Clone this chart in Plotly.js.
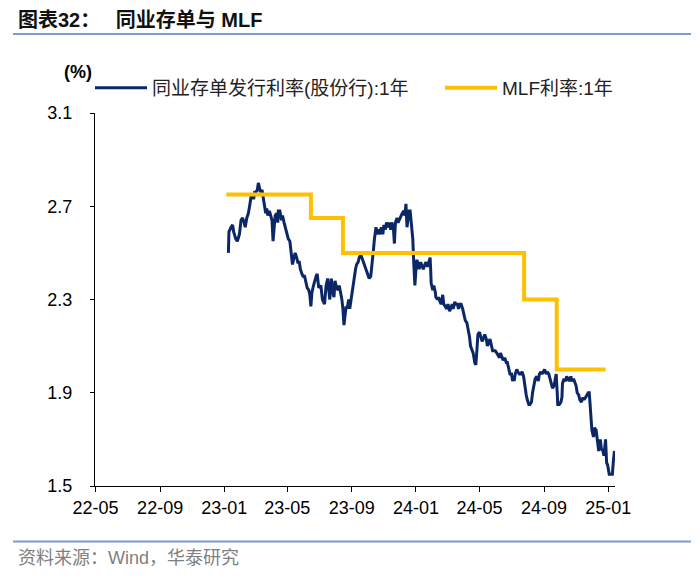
<!DOCTYPE html>
<html>
<head>
<meta charset="utf-8">
<script src="https://cdn.plot.ly/plotly-3.0.1.min.js"></script>
<style>
html,body{margin:0;padding:0;background:#fff;}
#chart{width:700px;height:576px;}
</style>
</head>
<body>
<div id="chart"></div>
<script>
// ---- data ----
var ncdName = '同业存单发行利率(股份行):1年';
var mlfName = 'MLF利率:1年';

var ncdDates = [
'2023-01-09','2023-01-10','2023-01-14','2023-01-17','2023-01-19','2023-01-23','2023-01-26','2023-01-30',
'2023-02-02','2023-02-05','2023-02-08','2023-02-10','2023-02-13','2023-02-16','2023-02-19','2023-02-21','2023-02-24','2023-02-26','2023-02-28',
'2023-03-02','2023-03-05','2023-03-07','2023-03-09','2023-03-11','2023-03-14','2023-03-16','2023-03-19','2023-03-21','2023-03-23','2023-03-25','2023-03-28','2023-03-30',
'2023-04-02','2023-04-04','2023-04-06','2023-04-08','2023-04-11','2023-04-13','2023-04-14','2023-04-17','2023-04-20','2023-04-22','2023-04-25','2023-04-27','2023-04-30',
'2023-05-03','2023-05-06','2023-05-09','2023-05-11','2023-05-14','2023-05-16','2023-05-19','2023-05-21','2023-05-24','2023-05-26','2023-05-29','2023-05-31',
'2023-06-03','2023-06-06','2023-06-08','2023-06-11','2023-06-13','2023-06-15','2023-06-17','2023-06-20','2023-06-22','2023-06-25','2023-06-27','2023-06-30',
'2023-07-04','2023-07-07','2023-07-11','2023-07-14','2023-07-17','2023-07-19','2023-07-21','2023-07-24','2023-07-26','2023-07-29','2023-07-31',
'2023-08-03','2023-08-06','2023-08-08','2023-08-11','2023-08-13','2023-08-15','2023-08-17','2023-08-19','2023-08-21','2023-08-23','2023-08-26','2023-08-28','2023-08-31',
'2023-09-02','2023-09-05','2023-09-08','2023-09-10','2023-09-13','2023-09-15','2023-09-18','2023-09-20','2023-09-23','2023-09-25','2023-09-28',
'2023-10-01','2023-10-04','2023-10-07','2023-10-09','2023-10-12','2023-10-14','2023-10-17','2023-10-19','2023-10-22','2023-10-25','2023-10-27','2023-10-30',
'2023-11-01','2023-11-04','2023-11-06','2023-11-09','2023-11-11','2023-11-14','2023-11-16','2023-11-19','2023-11-21','2023-11-23','2023-11-26','2023-11-28',
'2023-12-01','2023-12-04','2023-12-06','2023-12-09','2023-12-11','2023-12-13','2023-12-15','2023-12-17','2023-12-19','2023-12-21','2023-12-23','2023-12-26','2023-12-28','2023-12-30',
'2024-01-02','2024-01-03','2024-01-05','2024-01-07','2024-01-10','2024-01-13','2024-01-15','2024-01-18','2024-01-20','2024-01-23','2024-01-25','2024-01-28','2024-01-29','2024-01-30',
'2024-02-02','2024-02-04','2024-02-07','2024-02-08','2024-02-11','2024-02-13','2024-02-16','2024-02-18','2024-02-21','2024-02-23','2024-02-26','2024-02-28',
'2024-03-02','2024-03-05','2024-03-07','2024-03-10','2024-03-12','2024-03-15','2024-03-17','2024-03-20','2024-03-22','2024-03-25','2024-03-27','2024-03-30',
'2024-04-02','2024-04-04','2024-04-07','2024-04-09','2024-04-12','2024-04-14','2024-04-17','2024-04-19','2024-04-22','2024-04-24','2024-04-26','2024-04-28',
'2024-05-01','2024-05-03','2024-05-06','2024-05-08','2024-05-11','2024-05-14','2024-05-16','2024-05-19','2024-05-21','2024-05-24','2024-05-26','2024-05-29','2024-05-31',
'2024-06-03','2024-06-05','2024-06-08','2024-06-10','2024-06-13','2024-06-15','2024-06-18','2024-06-21','2024-06-23','2024-06-26','2024-06-28',
'2024-07-01','2024-07-03','2024-07-05','2024-07-06','2024-07-08','2024-07-11','2024-07-13','2024-07-16','2024-07-18','2024-07-21','2024-07-24','2024-07-26','2024-07-29','2024-07-31',
'2024-08-03','2024-08-05','2024-08-08','2024-08-10','2024-08-13','2024-08-15','2024-08-18','2024-08-21','2024-08-23','2024-08-26','2024-08-28','2024-08-31',
'2024-09-02','2024-09-05','2024-09-07','2024-09-10','2024-09-12','2024-09-15','2024-09-17','2024-09-20','2024-09-22','2024-09-24','2024-09-26','2024-09-27','2024-09-30',
'2024-10-03','2024-10-05','2024-10-06','2024-10-09','2024-10-12','2024-10-14','2024-10-17','2024-10-19','2024-10-22','2024-10-24','2024-10-27','2024-10-29',
'2024-11-01','2024-11-03','2024-11-06','2024-11-08','2024-11-11','2024-11-14','2024-11-16','2024-11-19','2024-11-21','2024-11-24','2024-11-26','2024-11-27','2024-11-29',
'2024-12-01','2024-12-04','2024-12-06','2024-12-09','2024-12-12','2024-12-14','2024-12-17','2024-12-19','2024-12-22','2024-12-24','2024-12-27','2024-12-29','2024-12-31',
'2025-01-02','2025-01-03','2025-01-06','2025-01-09','2025-01-11','2025-01-13'
];
var ncdValues = [
2.50,2.59,2.61,2.62,2.59,2.56,2.55,2.58,
2.64,2.65,2.63,2.61,2.65,2.67,2.71,2.74,2.75,2.73,2.76,
2.76,2.77,2.80,2.78,2.76,2.77,2.74,2.70,2.67,2.69,2.66,2.68,2.66,
2.64,2.55,2.62,2.66,2.67,2.63,2.68,2.68,2.64,2.66,2.63,2.61,2.59,
2.56,2.55,2.50,2.45,2.48,2.50,2.48,2.46,2.46,2.43,2.41,2.40,
2.40,2.36,2.35,2.34,2.32,2.27,2.33,2.36,2.38,2.40,2.41,2.35,
2.36,2.30,2.28,2.36,2.39,2.34,2.30,2.39,2.34,2.31,2.38,
2.35,2.34,2.36,2.33,2.30,2.26,2.19,2.23,2.27,2.26,2.30,2.26,2.31,
2.34,2.37,2.43,2.45,2.46,2.48,2.49,2.48,2.46,2.45,2.43,
2.40,2.39,2.40,2.46,2.51,2.56,2.61,2.58,2.60,2.58,2.61,2.58,
2.62,2.60,2.63,2.61,2.63,2.60,2.63,2.61,2.54,2.63,2.65,2.63,
2.65,2.66,2.67,2.68,2.66,2.71,2.61,2.66,2.68,2.68,2.63,2.56,2.45,2.36,
2.46,2.47,2.45,2.43,2.46,2.44,2.43,2.45,2.46,2.44,2.46,2.48,2.43,2.37,
2.34,2.36,2.33,2.31,2.30,2.31,2.29,2.28,2.32,2.28,2.27,2.26,
2.28,2.25,2.26,2.28,2.26,2.29,2.28,2.28,2.26,2.28,2.28,2.26,
2.23,2.21,2.20,2.18,2.14,2.10,2.08,2.07,2.03,2.02,2.08,2.15,
2.16,2.14,2.12,2.13,2.15,2.13,2.10,2.12,2.13,2.10,2.08,2.08,2.08,
2.07,2.06,2.05,2.07,2.05,2.04,2.05,2.03,2.03,2.00,1.98,
1.98,1.95,1.97,1.95,1.98,2.00,1.99,1.98,1.98,1.99,1.97,1.93,1.89,1.87,
1.85,1.85,1.86,1.90,1.94,1.96,1.97,1.95,1.98,1.99,1.98,1.99,
2.00,1.98,1.99,1.98,1.96,1.94,1.92,1.93,1.95,1.98,1.90,1.85,1.85,
1.86,1.88,1.94,1.96,1.95,1.97,1.96,1.95,1.97,1.95,1.96,1.95,
1.93,1.90,1.89,1.87,1.86,1.88,1.87,1.88,1.89,1.90,1.90,1.87,1.82,
1.74,1.71,1.75,1.74,1.69,1.65,1.70,1.66,1.65,1.63,1.70,1.60,1.59,
1.57,1.55,1.55,1.55,1.61,1.65
];

var mlfDates = [
'2023-01-05','2023-01-16','2023-02-15','2023-03-15','2023-04-17','2023-05-15','2023-06-15','2023-07-17',
'2023-08-15','2023-09-15','2023-10-16','2023-11-15','2023-12-15','2024-01-15','2024-02-18','2024-03-15',
'2024-04-17','2024-05-15','2024-06-17','2024-07-25','2024-08-26','2024-09-25','2024-10-25','2024-11-25',
'2024-12-25','2024-12-27'
];
var mlfValues = [
2.75,2.75,2.75,2.75,2.75,2.75,2.65,2.65,
2.50,2.50,2.50,2.50,2.50,2.50,2.50,2.50,
2.50,2.50,2.50,2.30,2.30,2.00,2.00,2.00,
2.00,2.00
];

var xTickVals = ['2022-05-01','2022-09-01','2023-01-01','2023-05-01','2023-09-01','2024-01-01','2024-05-01','2024-09-01','2025-01-01'];
var xTickText = ['22-05','22-09','23-01','23-05','23-09','24-01','24-05','24-09','25-01'];
var yTickVals = [1.5,1.9,2.3,2.7,3.1];
var yTickText = ['1.5','1.9','2.3','2.7','3.1'];

var titleText = '图表32：&#8194; 同业存单与 MLF';
var unitText = '(%)';
var sourceText = '资料来源：Wind，华泰研究';

// ---- layout helpers (pixel -> paper) ----
var L = 95, R = 615, T = 113, B = 486;
function px(x){ return (x - L) / (R - L); }
function py(y){ return (B - y) / (B - T); }

var FONT = 'Liberation Sans, Arial, "Noto Sans CJK SC", sans-serif';

var traces = [
  {
    type: 'scatter', mode: 'lines', name: ncdName,
    x: ncdDates, y: ncdValues,
    line: {color: '#0B2766', width: 3},
    legend: 'legend'
  },
  {
    type: 'scatter', mode: 'lines', name: mlfName,
    x: mlfDates, y: mlfValues,
    line: {color: '#FFC000', width: 4, shape: 'hv'},
    legend: 'legend2'
  }
];

var layout = {
  width: 700, height: 576,
  margin: {l: L, r: 700 - R, t: T, b: 576 - B, pad: 0},
  paper_bgcolor: '#ffffff', plot_bgcolor: '#ffffff',
  font: {family: FONT, color: '#000'},
  showlegend: true,
  xaxis: {
    type: 'date',
    range: ['2022-04-30', '2025-01-14'],
    tickvals: xTickVals, ticktext: xTickText,
    ticks: 'outside', ticklen: 5, tickwidth: 1, tickcolor: '#000',
    showline: true, linecolor: '#000', linewidth: 1,
    showgrid: false, zeroline: false,
    tickfont: {size: 18, color: '#000', family: FONT},
    fixedrange: true
  },
  yaxis: {
    range: [1.5, 3.1],
    tickvals: yTickVals, ticktext: yTickText,
    ticks: 'outside', ticklen: 4, tickwidth: 1, tickcolor: '#000',
    showline: true, linecolor: '#000', linewidth: 1,
    showgrid: false, zeroline: false,
    tickfont: {size: 18, color: '#000', family: FONT},
    ticklabelstandoff: 14,
    fixedrange: true
  },
  legend: {
    x: px(90), y: py(88), xanchor: 'left', yanchor: 'middle',
    orientation: 'h', bgcolor: 'rgba(0,0,0,0)', borderwidth: 0,
    font: {size: 19, color: '#222', family: FONT},
    itemwidth: 52, tracegroupgap: 0
  },
  legend2: {
    x: px(440), y: py(88), xanchor: 'left', yanchor: 'middle',
    orientation: 'h', bgcolor: 'rgba(0,0,0,0)', borderwidth: 0,
    font: {size: 19, color: '#222', family: FONT},
    itemwidth: 52, tracegroupgap: 0
  },
  shapes: [
    {type: 'line', xref: 'paper', yref: 'paper', x0: px(13), x1: px(691), y0: py(34), y1: py(34),
     line: {color: '#7C9CC9', width: 2}},
    {type: 'line', xref: 'paper', yref: 'paper', x0: px(13), x1: px(691), y0: py(541.5), y1: py(541.5),
     line: {color: '#7C9CC9', width: 2}}
  ],
  annotations: [
    {text: '<b>' + titleText + '</b>', xref: 'paper', yref: 'paper', x: px(16), y: py(20),
     xanchor: 'left', yanchor: 'middle', showarrow: false,
     font: {size: 20, color: '#111', family: FONT}},
    {text: '<b>' + unitText + '</b>', xref: 'paper', yref: 'paper', x: px(77.5), y: py(71.5),
     xanchor: 'center', yanchor: 'middle', showarrow: false,
     font: {size: 18, color: '#000', family: FONT}},
    {text: sourceText, xref: 'paper', yref: 'paper', x: px(16), y: py(558),
     xanchor: 'left', yanchor: 'middle', showarrow: false,
     font: {size: 18, color: '#7F7F7F', family: FONT}}
  ]
};

Plotly.newPlot('chart', traces, layout, {staticPlot: true, displayModeBar: false});
</script>
</body>
</html>
